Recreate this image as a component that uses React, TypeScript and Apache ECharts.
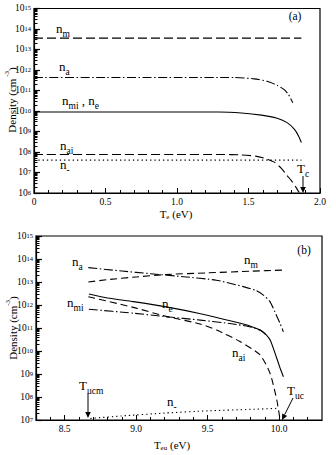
import React, { useEffect, useRef } from "react";
import * as echarts from "echarts";

const FONT = "'Liberation Serif', 'DejaVu Serif', serif";

// ---------- Panel (a): density vs Te (eV) ----------
const teM_a = [0, 1.87];
const nM_a = [3.6e13, 3.6e13];
const teA_a = [0, 0.5, 1.0, 1.4, 1.54, 1.63, 1.7, 1.75, 1.78, 1.81];
const nA_a = [4.3e11, 4.3e11, 4.3e11, 4.3e11, 3.7e11, 2.8e11, 1.8e11, 1.1e11, 6.3e10, 2.5e10];
const teE_a = [0, 0.5, 1.0, 1.29, 1.45, 1.59, 1.7, 1.77, 1.82, 1.85, 1.87];
const nE_a = [8.9e9, 8.9e9, 8.9e9, 8.9e9, 8.0e9, 6.3e9, 4.4e9, 2.7e9, 1.3e9, 6.1e8, 2.9e8];
const teAi_a = [0, 0.5, 1.0, 1.3, 1.45, 1.55, 1.62, 1.68, 1.73, 1.77, 1.8, 1.83, 1.855];
const nAi_a = [7.6e7, 7.6e7, 7.6e7, 7.6e7, 7.2e7, 6.3e7, 4.8e7, 3.2e7, 1.6e7, 7.1e6, 4.0e6, 2.0e6, 1.05e6];
const teNeg_a = [0, 1.87];
const nNeg_a = [4.0e7, 4.0e7];

// ---------- Panel (b): density vs Teu (eV) ----------
const tA_b = [8.666, 8.9, 9.1, 9.33, 9.56, 9.75, 9.84, 9.89, 9.936, 9.97, 10.006, 10.03];
const nA_b = [4.2e13, 3.0e13, 2.3e13, 1.7e13, 1.2e13, 6.3e12, 4.2e12, 2.7e12, 1.4e12, 5.1e11, 1.6e11, 6.9e10];
const tM_b = [8.666, 8.8, 9.0, 9.2, 9.5, 9.8, 10.03];
const nM_b = [1.0e13, 1.26e13, 1.66e13, 2.1e13, 2.5e13, 2.95e13, 3.3e13];
const tE_b = [8.67, 8.8, 8.98, 9.21, 9.45, 9.68, 9.8, 9.87, 9.91, 9.94, 9.98, 10.01, 10.03];
const nE_b = [3.0e12, 2.0e12, 1.4e12, 8.3e11, 4.2e11, 1.9e11, 1.2e11, 7.9e10, 5.0e10, 2.8e10, 5.6e9, 1.6e9, 7.6e8];
const tMi_b = [8.67, 8.98, 9.21, 9.45, 9.68, 9.8, 9.87, 9.91];
const nMi_b = [6.5e11, 4.4e11, 3.1e11, 2.2e11, 1.5e11, 1.1e11, 7.9e10, 5.0e10];
const tAi_b = [8.666, 8.98, 9.21, 9.447, 9.563, 9.726, 9.867, 9.937, 9.984, 10.007];
const nAi_b = [2.3e12, 7.9e11, 3.2e11, 1.5e11, 8.1e10, 2.6e10, 6.8e9, 1.07e9, 7.4e7, 1.0e7];
const tNeg_b = [8.68, 8.9, 9.2, 9.5, 9.8, 9.98];
const nNeg_b = [1.17e7, 1.5e7, 2.0e7, 2.5e7, 2.9e7, 3.2e7];

// tick definitions
const xMajorA = [0, 0.5, 1.0, 1.5, 2.0];
const xMajorB = [8.5, 9.0, 9.5, 10.0];
const decadesA = [6, 15];
const decadesB = [7, 15];

const pair = (xs: number[], ys: number[]) => xs.map((x, i) => [x, Math.log10(ys[i])]);

function logMinor(lo: number, hi: number) {
  const out: number[] = [];
  for (let e = lo; e < hi; e++) for (let k = 2; k <= 9; k++) out.push(e + Math.log10(k));
  return out;
}
function linMinor(lo: number, hi: number, majors: number[]) {
  const out: number[] = [];
  for (let k = Math.round(lo * 10) + 1; k < Math.round(hi * 10); k++) {
    const v = k / 10;
    if (!majors.some((m) => Math.abs(m - v) < 1e-6)) out.push(v);
  }
  return out;
}

const supRich = {
  b: { fontSize: 9.5, fontFamily: FONT, color: "#000", lineHeight: 9, padding: [3, 0, 0, 0], verticalAlign: "bottom" },
  s: { fontSize: 6.5, fontFamily: FONT, color: "#000", lineHeight: 6, verticalAlign: "top" },
};
const subRich = {
  b: { fontSize: 13, fontFamily: FONT, fill: "#000", lineHeight: 13, verticalAlign: "top" },
  s: { fontSize: 9.5, fontFamily: FONT, fill: "#000", lineHeight: 9, padding: [7, 0, 0, 0], verticalAlign: "top" },
};
const titleRich = {
  b: { fontSize: 11, fontFamily: FONT, fill: "#000", lineHeight: 11, padding: [3, 0, 0, 0], verticalAlign: "top" },
  s: { fontSize: 7, fontFamily: FONT, fill: "#000", lineHeight: 7, verticalAlign: "top" },
  d: { fontSize: 7, fontFamily: FONT, fill: "#000", lineHeight: 7, padding: [8, 0, 0, 0], verticalAlign: "top" },
};

function lab(x: number, y: number, text: string, align = "left") {
  return {
    type: "text",
    x,
    y,
    silent: true,
    style: { text, rich: subRich, align, verticalAlign: "middle", fill: "#000", fontFamily: FONT, fontSize: 13 },
  };
}
function plainText(x: number, y: number, text: string, size = 11) {
  return {
    type: "text",
    x,
    y,
    silent: true,
    style: { text, align: "center", verticalAlign: "middle", fill: "#000", fontFamily: FONT, fontSize: size },
  };
}
function arrow(x1: number, y1: number, x2: number, y2: number) {
  const dx = x2 - x1, dy = y2 - y1;
  const L = Math.hypot(dx, dy);
  const ux = dx / L, uy = dy / L;
  const hl = 6, hw = 2.8;
  const bx = x2 - ux * hl, by = y2 - uy * hl;
  return [
    { type: "line", silent: true, shape: { x1, y1, x2: bx, y2: by }, style: { stroke: "#000", lineWidth: 1 } },
    {
      type: "polygon",
      silent: true,
      shape: { points: [[x2, y2], [bx - uy * hw, by + ux * hw], [bx + uy * hw, by - ux * hw]] },
      style: { fill: "#000" },
    },
  ];
}

function xAxes(grid: number, min: number, max: number, majors: number[]) {
  return [
    {
      type: "value",
      gridIndex: grid,
      position: "bottom",
      min,
      max,
      axisLine: { show: true, lineStyle: { color: "#000", width: 1.2 } },
      axisTick: { show: true, inside: true, length: 5, customValues: majors, lineStyle: { color: "#000", width: 1 } },
      axisLabel: {
        show: true,
        customValues: majors,
        margin: 4,
        fontSize: 9.5,
        fontFamily: FONT,
        color: "#000",
        formatter: (v: number) => (v === 0 ? "0" : v.toFixed(1)),
      },
      splitLine: { show: false },
    },
    {
      type: "value",
      gridIndex: grid,
      position: "bottom",
      min,
      max,
      axisLine: { show: false },
      axisTick: { show: true, inside: true, length: 3, customValues: linMinor(min, max, majors), lineStyle: { color: "#000", width: 1 } },
      axisLabel: { show: false },
      splitLine: { show: false },
    },
  ];
}
function yAxes(grid: number, lo: number, hi: number) {
  return [
    {
      type: "value",
      gridIndex: grid,
      position: "left",
      min: lo,
      max: hi,
      interval: 1,
      axisLine: { show: true, lineStyle: { color: "#000", width: 1.2 } },
      axisTick: { show: true, inside: true, length: 6, lineStyle: { color: "#000", width: 1.2 } },
      axisLabel: {
        show: true,
        margin: 3,
        formatter: (v: number) => "{b|10}{s|" + v + "}",
        rich: supRich,
      },
      splitLine: { show: false },
    },
    {
      type: "value",
      gridIndex: grid,
      position: "left",
      min: lo,
      max: hi,
      axisLine: { show: false },
      axisTick: { show: true, inside: true, length: 3.5, customValues: logMinor(lo, hi), lineStyle: { color: "#000", width: 1 } },
      axisLabel: { show: false },
      splitLine: { show: false },
    },
  ];
}

function line(data: number[][], xi: number, yi: number, dash: any, smooth = 0.2) {
  return {
    type: "line",
    xAxisIndex: xi,
    yAxisIndex: yi,
    data,
    showSymbol: false,
    symbol: "none",
    smooth,
    silent: true,
    lineStyle: { color: "#000", width: 1.1, type: dash },
  };
}

const DASH = [9, 4];
const DASH_B = [7, 4];
const DASHDOT = [9, 2.5, 1.5, 2.5];
const DOT = [1.3, 3];

export default function App() {
  const ref = useRef<HTMLDivElement>(null);
  useEffect(() => {
    const chart = echarts.init(ref.current!, undefined, { renderer: "svg" });
    const option: any = {
      animation: false,
      backgroundColor: "#fff",
      textStyle: { fontFamily: FONT },
      grid: [
        { left: 34, top: 6, width: 286, height: 187, show: true, borderColor: "#000", borderWidth: 1.2, backgroundColor: "transparent" },
        { left: 36, top: 236, width: 286, height: 184, show: true, borderColor: "#000", borderWidth: 1.2, backgroundColor: "transparent" },
      ],
      xAxis: [...xAxes(0, 0, 2, xMajorA), ...xAxes(1, 8.3, 10.3, xMajorB)],
      yAxis: [...yAxes(0, decadesA[0], decadesA[1]), ...yAxes(1, decadesB[0], decadesB[1])],
      series: [
        line(pair(teM_a, nM_a), 0, 0, DASH, 0),
        line(pair(teA_a, nA_a), 0, 0, DASHDOT),
        line(pair(teE_a, nE_a), 0, 0, "solid"),
        line(pair(teAi_a, nAi_a), 0, 0, DASH),
        line(pair(teNeg_a, nNeg_a), 0, 0, DOT, 0),
        line(pair(tA_b, nA_b), 2, 2, DASHDOT),
        line(pair(tM_b, nM_b), 2, 2, DASH_B),
        line(pair(tE_b, nE_b), 2, 2, "solid"),
        line(pair(tMi_b, nMi_b), 2, 2, DASHDOT),
        line(pair(tAi_b, nAi_b), 2, 2, DASH_B),
        line(pair(tNeg_b, nNeg_b), 2, 2, DOT),
      ],
      graphic: [
        // panel (a)
        lab(56, 28, "{b|n}{s|m}"),
        lab(59, 66, "{b|n}{s|a}"),
        lab(62, 100, "{b|n}{s|mi}{b| , n}{s|e}"),
        lab(60, 145, "{b|n}{s|ai}"),
        lab(60, 164, "{b|n}{s|-}"),
        plainText(295, 16, "(a)", 11.5),
        lab(297, 168, "{b|T}{s|c}"),
        ...arrow(303, 176, 303, 193),
        {
          type: "text",
          x: 176,
          y: 211,
          silent: true,
          style: { text: "{b|T}{d|e}{b| (eV)}", rich: titleRich, align: "center", verticalAlign: "middle" },
        },
        {
          type: "text",
          x: 9,
          y: 100,
          rotation: Math.PI / 2,
          silent: true,
          style: { text: "{b|Density (cm}{s| -3}{b|)}", rich: titleRich, align: "center", verticalAlign: "middle" },
        },
        // panel (b)
        lab(72, 261, "{b|n}{s|a}"),
        lab(244, 259, "{b|n}{s|m}"),
        lab(162, 303, "{b|n}{s|e}"),
        lab(67, 302, "{b|n}{s|mi}"),
        lab(232, 352, "{b|n}{s|ai}"),
        lab(167, 401, "{b|n}{s|-}"),
        lab(79, 385, "{b|T}{s|ucm}"),
        ...arrow(88, 393, 88, 418),
        lab(287, 390, "{b|T}{s|uc}"),
        ...arrow(293, 398, 282, 420),
        plainText(304, 250, "(b)", 11.5),
        {
          type: "text",
          x: 172,
          y: 442,
          silent: true,
          style: { text: "{b|T}{d|eu}{b| (eV)}", rich: titleRich, align: "center", verticalAlign: "middle" },
        },
        {
          type: "text",
          x: 10,
          y: 328,
          rotation: Math.PI / 2,
          silent: true,
          style: { text: "{b|Density (cm}{s|-3}{b|)}", rich: titleRich, align: "center", verticalAlign: "middle" },
        },
      ],
    };
    chart.setOption(option);
    return () => chart.dispose();
  }, []);
  return (
    <div
      ref={ref}
      style={{ position: "absolute", left: 0, top: 0, width: 336, height: 455, background: "#fff" }}
    />
  );
}
